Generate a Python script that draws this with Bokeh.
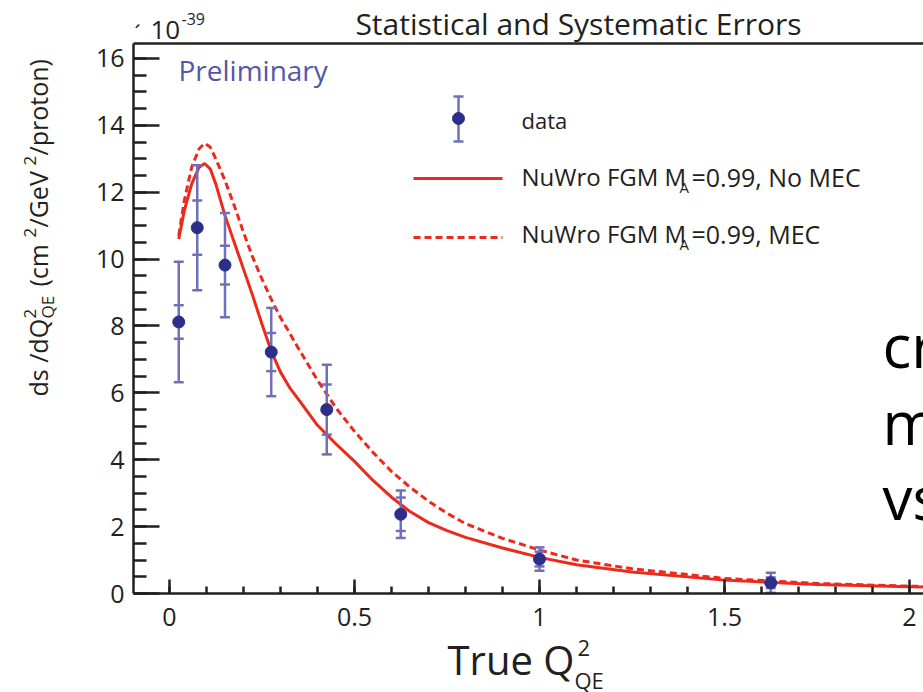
import math
from bokeh.plotting import figure
from bokeh.models import Label, LinearAxis, Range1d, SingleIntervalTicker, FixedTicker
from bokeh.embed import file_html
from bokeh.resources import INLINE

# ---------------- data ----------------
q2_bin_centers = [0.025, 0.075, 0.15, 0.275, 0.425, 0.625, 1.0, 1.625]
xsec_data = [8.12, 10.94, 9.82, 7.22, 5.50, 2.37, 1.03, 0.32]
stat_err = [0.50, 0.81, 0.58, 0.57, 0.75, 0.50, 0.22, 0.16]
total_err = [1.80, 1.87, 1.56, 1.32, 1.34, 0.71, 0.35, 0.30]

q2_curve = [0.025, 0.04, 0.06, 0.08, 0.095, 0.11, 0.125, 0.15, 0.175, 0.2,
            0.225, 0.25, 0.275, 0.3, 0.325, 0.35, 0.4, 0.45, 0.5, 0.55, 0.6,
            0.65, 0.7, 0.75, 0.8, 0.9, 1.0, 1.1, 1.25, 1.5, 1.75, 2.0, 2.1]
nuwro_no_mec = [10.60, 11.45, 12.25, 12.75, 12.86, 12.70, 12.25, 11.30, 10.50, 9.70,
                8.90, 8.05, 7.25, 6.62, 6.15, 5.78, 5.03, 4.47, 3.95, 3.38, 2.88,
                2.45, 2.12, 1.88, 1.68, 1.36, 1.08, 0.86, 0.64, 0.40, 0.27, 0.20, 0.18]
nuwro_mec = [10.70, 11.75, 12.75, 13.30, 13.46, 13.35, 13.00, 12.35, 11.60, 10.80,
             10.05, 9.40, 8.80, 8.25, 7.78, 7.30, 6.38, 5.55, 4.85, 4.22, 3.65,
             3.18, 2.76, 2.40, 2.09, 1.65, 1.30, 1.00, 0.74, 0.45, 0.30, 0.22, 0.20]

x_tick_labels = {0: "0", 0.5: "0.5", 1: "1", 1.5: "1.5", 2: "2"}

# ---------------- styling ----------------
FONT = "Open Sans"
INK = "#231f20"
RED = "#ec2a1c"
EBAR = "#7070ba"
DOT = "#2d2d8a"
PRELIM = "#5656a8"

W, H = 923, 692
FL, FT, FB = 133, 43, 593          # frame left / top / bottom in pixels
X_ZERO_PX, X_SCALE = 169.0, 370.0  # pixel of x=0, pixels per unit
Y_SCALE = 33.44                    # pixels per unit in y


def DX(px):
    return (px - X_ZERO_PX) / X_SCALE


def DY(py):
    return (FB - py) / Y_SCALE


p = figure(width=W, height=H, x_range=Range1d(DX(0), DX(W)), y_range=Range1d(DY(H), DY(0)),
           output_backend="svg", toolbar_location=None, title=None,
           min_border=0, min_border_left=0, min_border_right=0, min_border_top=0,
           min_border_bottom=0)
p.outline_line_color = None
p.xgrid.visible = False
p.ygrid.visible = False
p.background_fill_color = "white"
p.border_fill_color = "white"

xa = p.xaxis[0]
xa.fixed_location = 0
xa.bounds = (DX(FL), DX(W))
xa.ticker = SingleIntervalTicker(interval=0.5, num_minor_ticks=5)
xa.major_label_overrides = x_tick_labels
xa.major_tick_in, xa.major_tick_out = 14, 0
xa.minor_tick_in, xa.minor_tick_out = 7, 0

ya = p.yaxis[0]
ya.fixed_location = DX(FL)
ya.bounds = (0, DY(FT))
ya.ticker = SingleIntervalTicker(interval=2, num_minor_ticks=4)
ya.major_tick_in, ya.major_tick_out = 26, 0
ya.minor_tick_in, ya.minor_tick_out = 13, 0

for ax in (xa, ya):
    ax.axis_line_width = 2.5
    ax.axis_line_color = INK
    ax.major_tick_line_width = 2.5
    ax.minor_tick_line_width = 2.5
    ax.major_tick_line_color = INK
    ax.minor_tick_line_color = INK
    ax.major_label_text_font = FONT
    ax.major_label_text_font_size = "25px"
    ax.major_label_text_color = INK
xa.major_label_standoff = 14
ya.major_label_standoff = 9

top = LinearAxis(fixed_location=DY(FT), bounds=(DX(FL), DX(W)),
                 ticker=FixedTicker(ticks=[]),
                 major_tick_line_color=None, minor_tick_line_color=None,
                 axis_line_width=2.5, axis_line_color=INK)
p.add_layout(top, "above")

# ---------------- curves ----------------
p.line(q2_curve, nuwro_no_mec, line_color=RED, line_width=3)
p.line(q2_curve, nuwro_mec, line_color=RED, line_width=3, line_dash="7 4")

# ---------------- data with errors ----------------
tot_lo = [y - e for y, e in zip(xsec_data, total_err)]
tot_hi = [y + e for y, e in zip(xsec_data, total_err)]
st_lo = [y - e for y, e in zip(xsec_data, stat_err)]
st_hi = [y + e for y, e in zip(xsec_data, stat_err)]
p.segment(q2_bin_centers, tot_lo, q2_bin_centers, tot_hi, line_color=EBAR, line_width=2.5)
for ys in (tot_lo, tot_hi, st_lo, st_hi):
    p.scatter(q2_bin_centers, ys, marker="dash", size=10, line_color=EBAR, line_width=2.5)
p.scatter(q2_bin_centers, xsec_data, size=12, fill_color=DOT, line_color=DOT)

# ---------------- legend (drawn by hand, ROOT style) ----------------
lx = [DX(413), DX(502)]
p.line(lx, [DY(178), DY(178)], line_color=RED, line_width=3)
p.line(lx, [DY(237), DY(237)], line_color=RED, line_width=3, line_dash="7 4")
mx = DX(458)
p.segment([mx], [DY(141)], [mx], [DY(96)], line_color=EBAR, line_width=2.5)
p.scatter([mx, mx], [DY(141), DY(96)], marker="dash", size=10, line_color=EBAR, line_width=2.5)
p.scatter([mx], [DY(118)], size=12, fill_color=DOT, line_color=DOT)


def lab(px, py, text, size, color=INK, align="left", rotated=False, font=FONT):
    # (px, py) is the wanted baseline point in picture pixels
    shift = 0.4 * size
    if rotated:
        x, y, ang = DX(px - shift), DY(py), math.pi / 2
    else:
        x, y, ang = DX(px), DY(py - shift), 0.0
    p.add_layout(Label(x=x, y=y, text=text, text_font=font,
                       text_font_size=f"{size}px", text_color=color,
                       text_align=align, text_baseline="alphabetic", angle=ang))


lab(521, 128, "data", 22)
lab(521, 186, "NuWro FGM M", 24)
lab(679, 192, "A", 15)
lab(691, 186, "=0.99, No MEC", 25)
lab(521, 243, "NuWro FGM M", 24)
lab(679, 249, "A", 15)
lab(691, 243, "=0.99, MEC", 25)

# title, preliminary, exponent
lab(578, 35, "Statistical and Systematic Errors", 30, align="center")
lab(178, 81, "Preliminary", 28, color=PRELIM)
lab(134, 40, "´", 22)
lab(150, 40, "10", 26)
lab(181, 25, "-39", 16)

# x axis title
lab(447, 675, "True Q", 40)
lab(577, 656, "2", 22)
lab(574, 688, "QE", 22)

# y axis title (rotated pieces)
lab(47, 396, "ds /dQ", 25, rotated=True)
lab(36, 318, "2", 17, rotated=True)
lab(54, 318, "QE", 17, rotated=True)
lab(47, 286, "(cm", 25, rotated=True)
lab(36, 237, "2", 17, rotated=True)
lab(47, 227, "/GeV", 25, rotated=True)
lab(36, 165, "2", 17, rotated=True)
lab(47, 155, "/proton)", 25, rotated=True)

# slide text cut by the right edge
lab(882, 368, "cr", 60, color="black")
lab(882, 445, "m", 60, color="black")
lab(882, 520, "vs", 60, color="black")

open("out.html", "w").write(file_html(p, INLINE))
